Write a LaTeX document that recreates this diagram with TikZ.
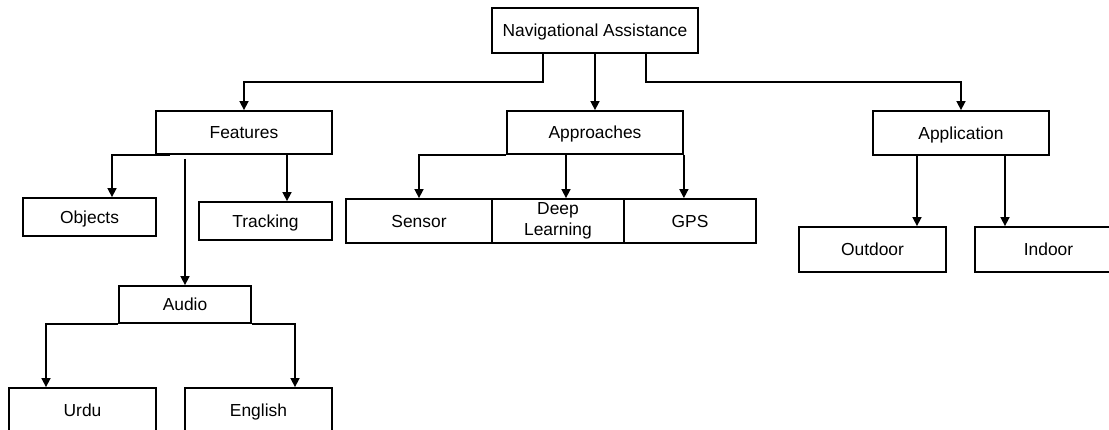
\documentclass[tikz,border=0pt]{standalone}
\usepackage{fontspec}
\setmainfont{Liberation Sans}
\usetikzlibrary{arrows.meta}
\tikzset{box/.style = {draw, line width = 1.8pt, inner sep = 0, align = center, text height = 12.5pt, text depth = 0pt, font = \fontsize{17.4}{21}\selectfont}}
\tikzset{arr/.style = {line width = 1.6pt, -{Triangle[length = 9pt, width = 9pt]}}}

\begin{document}
\begin{tikzpicture}[x = 1pt, y = -1pt]
    \useasboundingbox (0, 0) rectangle (1109, 430);
    \clip (0, 0) rectangle (1109, 430);

    \node [box, minimum width = 206pt, minimum height = 45pt] (nav) at (595, 30.5) {Navigational Assistance};

    \node [box, minimum width = 176pt, minimum height = 43pt] (feat) at (244, 132.5) {Features};
    \node [box, minimum width = 176pt, minimum height = 43pt] (appr) at (595, 132.5) {Approaches};
    \node [box, minimum width = 176pt, minimum height = 44pt] (appl) at (961, 133) {Application};

    \node [box, minimum width = 133pt, minimum height = 38pt] (obj) at (89.5, 217) {Objects};
    \node [box, minimum width = 133pt, minimum height = 38pt] (track) at (265.5, 221) {Tracking};

    \node [box, minimum width = 146pt, minimum height = 44pt] (sensor) at (419, 221) {Sensor};
    \node [box, minimum width = 132pt, minimum height = 44pt, text height =, text depth =] (deep) at (558, 221) {Deep\\Learning};
    \node [box, minimum width = 132pt, minimum height = 44pt] (gps) at (690, 221) {GPS};

    \node [box, minimum width = 147pt, minimum height = 45pt] (outdoor) at (872.5, 249.5) {Outdoor};
    \node [box, minimum width = 147pt, minimum height = 45pt] (indoor) at (1048.5, 249.5) {Indoor};

    \node [box, minimum width = 132pt, minimum height = 37pt] (audio) at (185, 304.5) {Audio};
    \node [box, minimum width = 147pt, minimum height = 45pt] (urdu) at (82.5, 410.5) {Urdu};
    \node [box, minimum width = 147pt, minimum height = 45pt] (eng) at (258.5, 410.5) {English};

    \coordinate (navl) at (543, 82);
    \coordinate (navr) at (646, 82);
    \coordinate (featl) at (170, 0);
    \coordinate (objin) at (112, 0);
    \coordinate (trk) at (287, 0);
    \coordinate (dl) at (566, 0);
    \coordinate (outx) at (917, 0);
    \coordinate (inx) at (1005, 0);
    \coordinate (urx) at (46, 0);
    \coordinate (enx) at (295, 0);

    \draw [arr] (nav.south -| navl) -- (navl) -| (feat.north);
    \draw [arr] (nav.south) -- (appr.north);
    \draw [arr] (nav.south -| navr) -- (navr) -| (appl.north);

    \draw [arr] (feat.south -| featl) -| (obj.north -| objin);
    \draw [arr] (feat.south -| trk) -- (track.north -| trk);
    \draw [arr, shorten <= 4pt] (feat.south -| audio.north) -- (audio.north);

    \draw [arr] (appr.south west) -| (sensor.north);
    \draw [arr] (appr.south -| dl) -- (deep.north -| dl);
    \draw [arr] (appr.south east) -- (appr.south east |- gps.north);

    \draw [arr] (appl.south -| outx) -- (outdoor.north -| outx);
    \draw [arr] (appl.south -| inx) -- (indoor.north -| inx);

    \draw [arr] (audio.south west) -| (urdu.north -| urx);
    \draw [arr] (audio.south east) -| (eng.north -| enx);
  \end{tikzpicture}
\end{document}
